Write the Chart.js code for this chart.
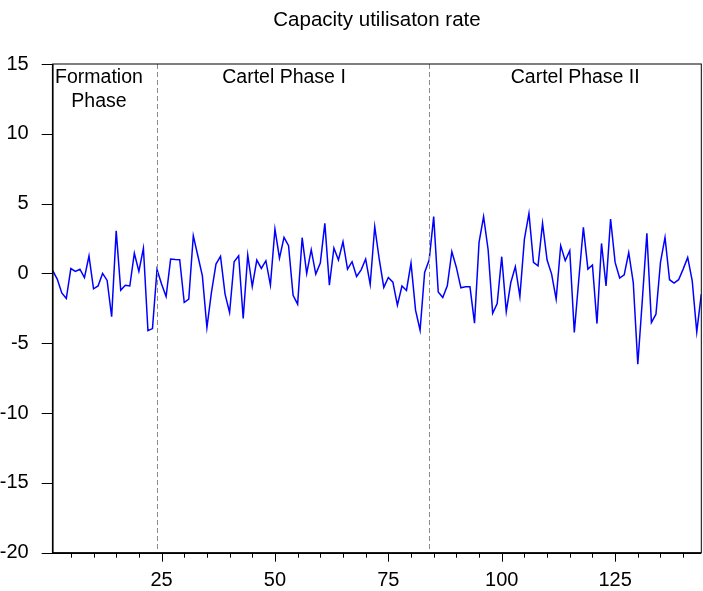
<!DOCTYPE html>
<html>
<head>
<meta charset="utf-8">
<title>Capacity utilisaton rate</title>
<script src="https://cdn.jsdelivr.net/npm/chart.js@4/dist/chart.umd.min.js"></script>
<style>
  html, body { margin: 0; padding: 0; background: #fff; }
  #wrap { width: 703px; height: 591px; position: relative; }
</style>
</head>
<body>
<div id="wrap"><canvas id="ch-cap"></canvas></div>
<script>
// capacity utilisation rate, one value per period (1..144)
const utilisation = [
  0.2, -0.4, -1.4, -1.8, 0.35, 0.15, 0.3, -0.3, 1.25, -1.1,
  -0.9, 0.0, -0.5, -3.1, 3.05, -1.2, -0.85, -0.9, 1.45, 0.15,
  1.8, -4.1, -3.95, 0.28, -0.75, -1.65, 1.03, 1.0, 0.98, -2.08,
  -1.84, 2.7, 1.27, -0.17, -3.88, -1.36, 0.67, 1.22, -1.48, -2.8,
  0.84, 1.27, -3.23, 1.32, -0.93, 0.96, 0.36, 0.91, -0.84, 3.18,
  1.1, 2.58, 1.99, -1.56, -2.2, 2.56, 0.0, 1.7, -0.05, 0.74,
  3.59, -0.84, 1.82, 0.96, 2.27, 0.31, 0.84, -0.22, 0.26, 1.03,
  -0.79, 3.35, 1.0, -1.0, -0.29, -0.62, -2.27, -0.9, -1.22, 0.74,
  -2.63, -4.07, 0.07, 0.96, 4.07, -1.32, -1.72, -0.89, 1.56, 0.43,
  -1.03, -0.96, -0.96, -3.56, 2.22, 4.07, 1.7, -2.85, -2.15, 1.2,
  -2.73, -0.65, 0.48, -1.65, 2.46, 4.3, 0.79, 0.55, 3.59, 0.96,
  -0.05, -1.84, 1.99, 0.91, 1.63, -4.23, -0.4, 3.3, 0.31, 0.6,
  -3.59, 2.15, -0.89, 3.9, 0.79, -0.33, -0.1, 1.5, -0.65, -6.5,
  -1.9, 2.87, -3.52, -2.92, 0.79, 2.58, -0.45, -0.69, -0.45, 0.31,
  1.15, -0.53, -4.19, -1.48
];

const xLabelTicks = [25, 50, 75, 100, 125];
const yTickValues = [15, 10, 5, 0, -5, -10, -15, -20];
const phaseBreaks = [24, 84];
const phaseNames = [['Formation', 'Phase'], ['Cartel Phase I'], ['Cartel Phase II']];
// where each phase caption sits (period on the x axis)
const phaseNameAt = [11.2, 52, 116.2];
const chartTitle = 'Capacity utilisaton rate';

const FONT = "'Liberation Sans', Arial, sans-serif";

// title, frame, tick marks, phase lines and captions
const decor = {
  id: 'decor',
  afterDatasetsDraw(chart) {
    const { ctx, chartArea: a, scales: { x, y } } = chart;
    ctx.save();

    // phase breaks
    ctx.strokeStyle = '#8c8c8c';
    ctx.lineWidth = 1;
    ctx.setLineDash([5, 3]);
    phaseBreaks.forEach(p => {
      const px = Math.round(x.getPixelForValue(p)) + 0.5;
      ctx.beginPath();
      ctx.moveTo(px, a.top);
      ctx.lineTo(px, a.bottom);
      ctx.stroke();
    });
    ctx.setLineDash([]);

    // box
    ctx.strokeStyle = '#000';
    ctx.lineWidth = 1;
    ctx.strokeRect(a.left, a.top, a.right - a.left, a.bottom - a.top);
    ctx.lineWidth = 1.6;
    ctx.beginPath();
    ctx.moveTo(a.left, a.top);
    ctx.lineTo(a.left, a.bottom + 0.5);
    ctx.lineTo(a.right, a.bottom + 0.5);
    ctx.stroke();

    // x ticks every 5, labelled ones longer
    ctx.lineWidth = 1;
    x.ticks.forEach(t => {
      const px = Math.round(x.getPixelForValue(t.value)) + 0.5;
      const len = xLabelTicks.includes(t.value) ? 9 : 5;
      ctx.beginPath();
      ctx.moveTo(px, a.bottom);
      ctx.lineTo(px, a.bottom + len);
      ctx.stroke();
    });

    // y ticks
    yTickValues.forEach(v => {
      const py = Math.round(y.getPixelForValue(v)) + 0.5;
      ctx.beginPath();
      ctx.moveTo(a.left - 11, py);
      ctx.lineTo(a.left, py);
      ctx.stroke();
    });

    ctx.fillStyle = '#000';
    ctx.textAlign = 'center';
    ctx.textBaseline = 'middle';

    // title, centred over the plot
    ctx.font = '20.5px ' + FONT;
    ctx.fillText(chartTitle, (a.left + a.right) / 2, 20);

    // captions
    ctx.font = '19.5px ' + FONT;
    phaseNames.forEach((lines, i) => {
      const px = x.getPixelForValue(phaseNameAt[i]);
      lines.forEach((ln, j) => ctx.fillText(ln, px, a.top + 14 + j * 24));
    });

    ctx.restore();
  }
};

new Chart(document.getElementById('ch-cap'), {
  type: 'line',
  data: {
    datasets: [{
      data: utilisation.map((v, i) => ({ x: i + 1, y: v })),
      borderColor: '#0000ff',
      borderWidth: 1.5,
      tension: 0,
      pointRadius: 0,
      fill: false
    }]
  },
  options: {
    responsive: true,
    maintainAspectRatio: false,
    animation: false,
    layout: { padding: { top: 64, right: 1.7, bottom: 0, left: 0 } },
    plugins: {
      legend: { display: false },
      tooltip: { enabled: false },
      title: { display: false }
    },
    scales: {
      x: {
        type: 'linear',
        min: 1,
        max: 144,
        grid: { display: false },
        border: { display: false },
        afterFit: s => { s.height = 38.3; },
        ticks: {
          stepSize: 5,
          includeBounds: false,
          autoSkip: false,
          maxRotation: 0,
          padding: 8,
          color: '#000',
          font: { family: FONT, size: 20 },
          callback: v => xLabelTicks.includes(v) ? String(v) : ''
        }
      },
      y: {
        min: -20,
        max: 15,
        grid: { display: false },
        border: { display: false },
        afterFit: s => { s.width = 52.7; },
        ticks: {
          stepSize: 5,
          padding: 16,
          color: '#000',
          font: { family: FONT, size: 20 }
        }
      }
    }
  },
  plugins: [decor]
});
</script>
</body>
</html>
